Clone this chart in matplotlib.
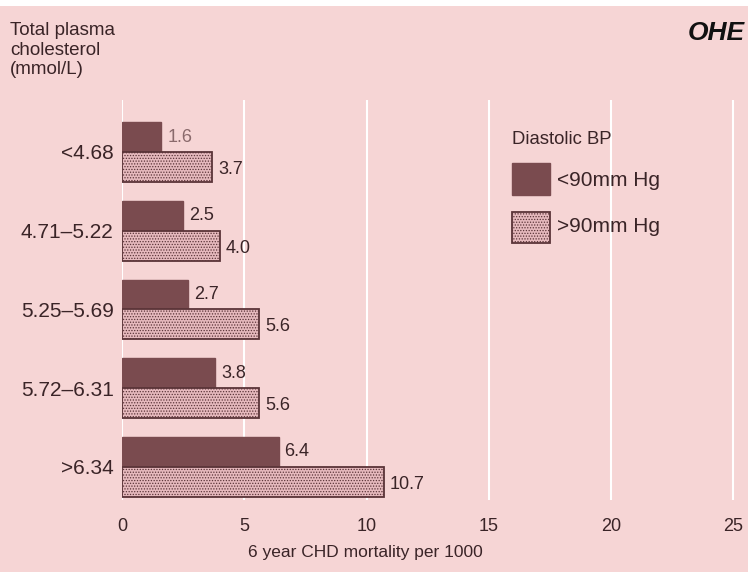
import matplotlib.pyplot as plt
import numpy as np

# data
groups = ["<4.68", "4.71\u20135.22", "5.25\u20135.69", "5.72\u20136.31", ">6.34"]
low_bp = [1.6, 2.5, 2.7, 3.8, 6.4]
high_bp = [3.7, 4.0, 5.6, 5.6, 10.7]
xticks = [0, 5, 10, 15, 20, 25]

bg = "#f6d5d5"
dark = "#7a4b4f"
light = "#e6b9bd"
txt = "#3a2427"

plt.rcParams['font.family'] = ['Liberation Sans', 'DejaVu Sans']
plt.rcParams['hatch.color'] = "#9a6a6e"
plt.rcParams['hatch.linewidth'] = 0.6

fig = plt.figure(figsize=(7.48, 5.72), dpi=100, facecolor="white")
fig.patches.append(plt.Rectangle((0, 0), 1, 1 - 6 / 572, transform=fig.transFigure,
                                 facecolor=bg, edgecolor="none", zorder=-1))
ax = fig.add_axes([122 / 748, 72 / 572, 626 / 748, 400 / 572])
ax.set_facecolor(bg)
ax.patch.set_alpha(0)

y = np.arange(len(groups))
h = 0.38
ax.barh(y - h / 2, low_bp, height=h, color=dark, edgecolor=dark, zorder=3)
ax.barh(y + h / 2, high_bp, height=h, color=light, edgecolor="#5a3438",
        hatch="......", linewidth=1.3, zorder=3)

for i in range(len(groups)):
    c = "#8a6a6c" if i == 0 else txt
    ax.text(low_bp[i] + 0.25, y[i] - h / 2, f"{low_bp[i]:.1f}", va="center", ha="left",
            fontsize=13, color=c)
    ax.text(high_bp[i] + 0.25, y[i] + h / 2 + 0.03, f"{high_bp[i]:.1f}", va="center",
            ha="left", fontsize=13, color=txt)

ax.set_xlim(0, 25.6)
ax.set_ylim(4.42, -0.66)
ax.set_xticks(xticks)
ax.set_yticks(y)
ax.set_yticklabels(groups, fontsize=15)
ax.tick_params(length=0, labelsize=13, colors=txt, pad=7)
ax.tick_params(axis="y", labelsize=15, pad=6)
ax.tick_params(axis="x", pad=13)
ax.grid(axis="x", color="white", linewidth=1.5, zorder=0)
for s in ax.spines.values():
    s.set_visible(False)

fig.text(365 / 748, 1 - 553 / 572, "6 year CHD mortality per 1000", ha="center",
         va="center", fontsize=12.5, color=txt)
fig.text(10 / 748, 1 - 22 / 572, "Total plasma\ncholesterol\n(mmol/L)", ha="left",
         va="top", fontsize=13.5, color=txt, linespacing=1.2)

# legend
fig.text(512 / 748, 1 - 140 / 572, "Diastolic BP", fontsize=13.3, color=txt, va="center")
fig.patches.append(plt.Rectangle((512 / 748, 1 - 195 / 572), 38 / 748, 32 / 572,
                                 transform=fig.transFigure, facecolor=dark, edgecolor=dark))
fig.patches.append(plt.Rectangle((512 / 748, 1 - 243 / 572), 38 / 748, 31 / 572,
                                 transform=fig.transFigure, facecolor=light,
                                 edgecolor="#5a3438", hatch="......", linewidth=1.3))
fig.text(557 / 748, 1 - 180 / 572, "<90mm Hg", fontsize=15, color=txt, va="center")
fig.text(557 / 748, 1 - 227 / 572, ">90mm Hg", fontsize=15, color=txt, va="center")

# logo
fig.text(688 / 748, 1 - 33 / 572, "OHE", fontsize=19, color="#111111", va="center",
         ha="left", style="italic", weight="bold")

fig.savefig("out.png", dpi=100, facecolor="white")
